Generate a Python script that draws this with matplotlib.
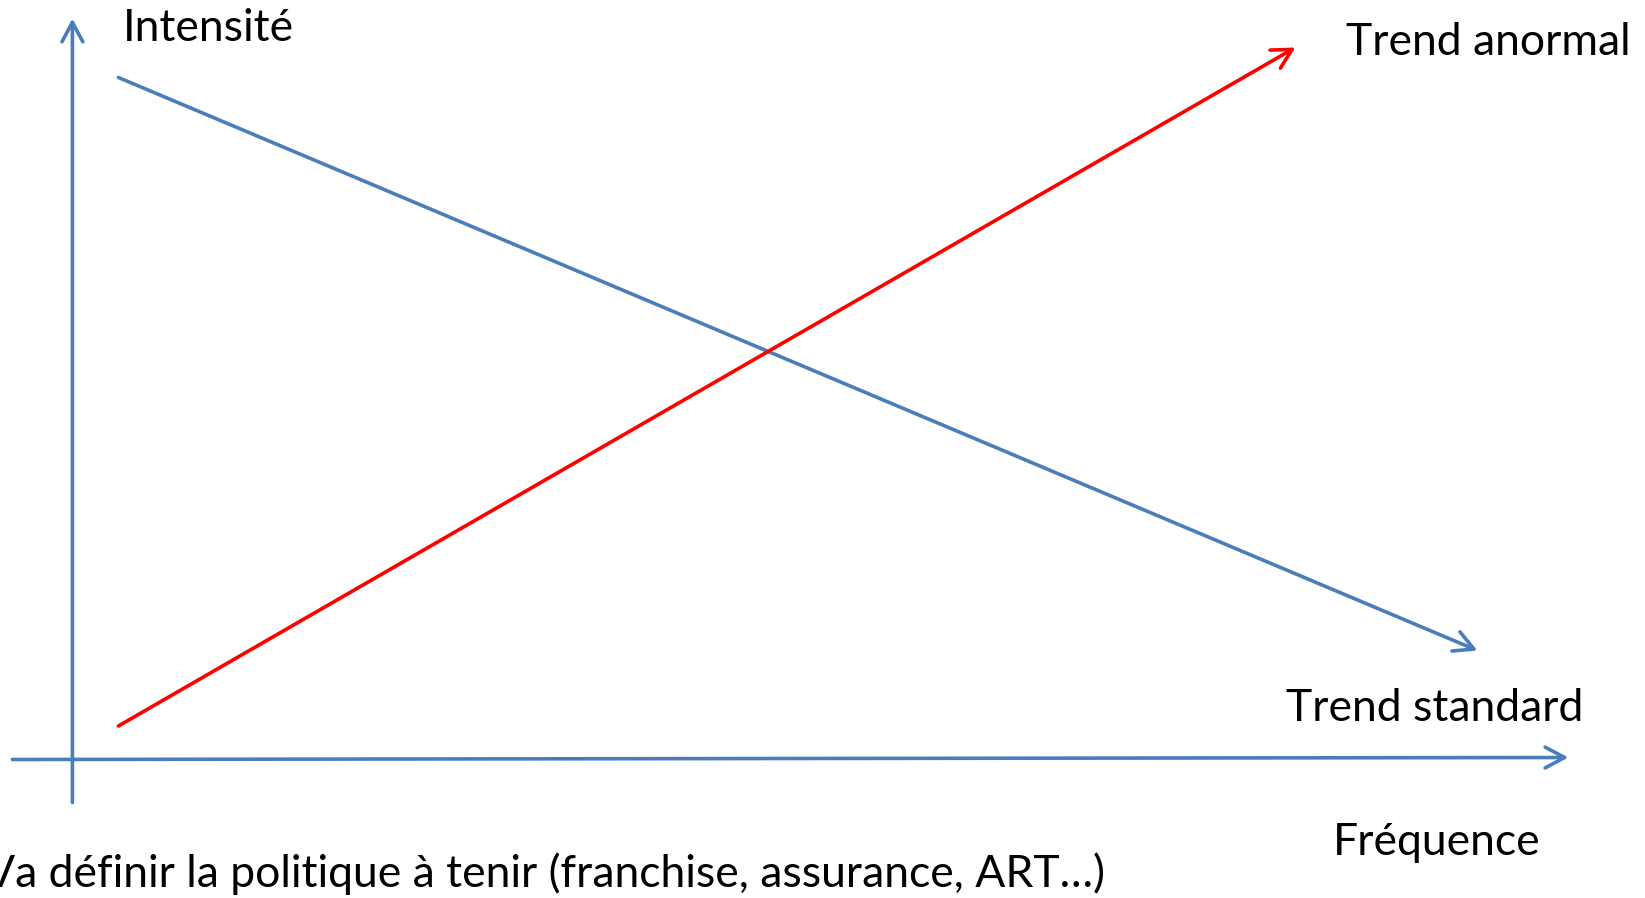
import matplotlib
matplotlib.use('Agg')
import matplotlib.pyplot as plt

plt.rcParams['font.family'] = ['Lato', 'DejaVu Sans']

# schematic values: frequence (x) / intensite (y), origin at the axes crossing
freq_axis = [-60, 1496]
freq_axis_y = [0, 2]
int_axis = [-43, 741]

standard_freq = [46, 1405]
standard_int = [682, 109]

anormal_freq = [46, 1223]
anormal_int = [33.5, 712]

labels = {
    'Intensité': (50, 731),
    'Trend anormal': (1274, 717),
    'Trend standard': (1214, 51),
    'Fréquence': (1260, -83),
}
note = "Va définir la politique à tenir (franchise, assurance, ART…)"

blue = '#4A7EBB'
red = '#FF0000'

fig = plt.figure(figsize=(16.45, 8.98), dpi=100)
ax = fig.add_axes([0, 0, 1, 1])
ax.set_xlim(-72.4, 1572.6)
ax.set_ylim(-138.5, 759.5)
ax.axis('off')


def arrow(xs, ys, color, lw=2.6):
    ax.annotate('', xy=(xs[1], ys[1]), xytext=(xs[0], ys[0]),
                arrowprops=dict(arrowstyle='->,head_length=1.4,head_width=0.75',
                                color=color, lw=lw, shrinkA=0, shrinkB=0,
                                capstyle='round', joinstyle='round'))


# axes
arrow(freq_axis, freq_axis_y, blue)
arrow([0, 0], int_axis, blue)

# trends
arrow(standard_freq, standard_int, blue)
arrow(anormal_freq, anormal_int, red)

for txt, (x, y) in labels.items():
    ax.text(x, y, txt, fontsize=32, ha='left', va='center', color='black')

ax.text(1033, -114, note, fontsize=32, ha='right', va='center', color='black')

fig.savefig('out.png', dpi=100, facecolor='white')
